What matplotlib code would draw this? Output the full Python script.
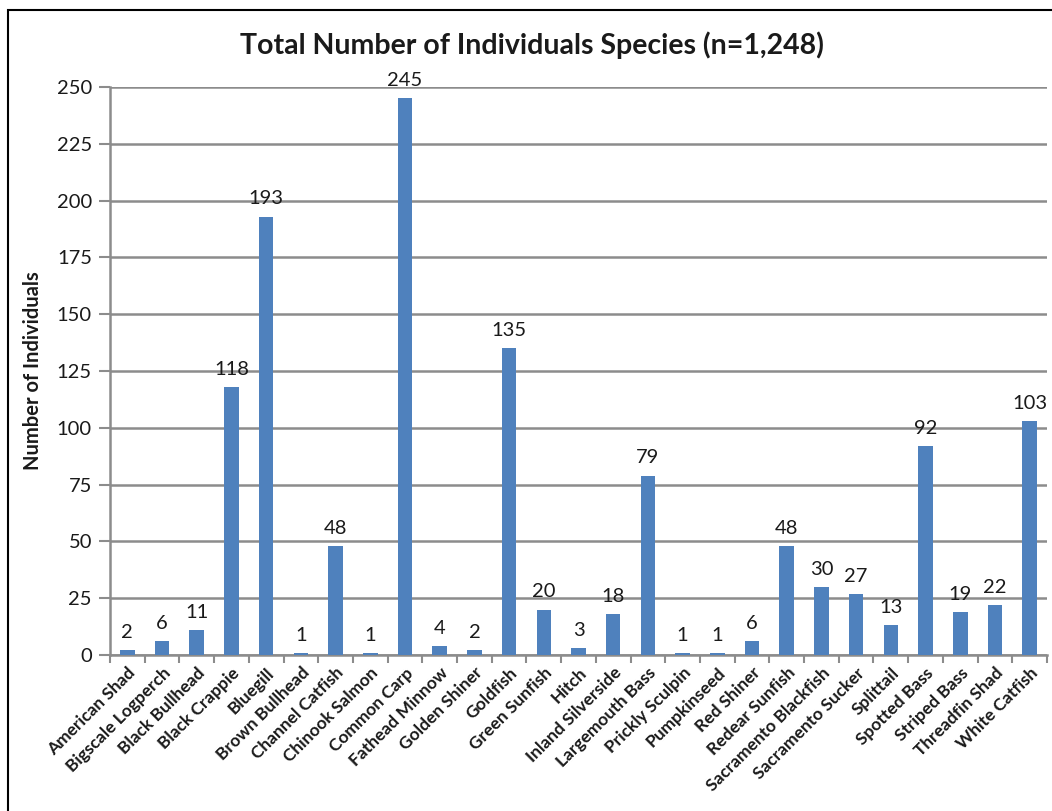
import matplotlib
matplotlib.use("Agg")
import matplotlib.pyplot as plt
from matplotlib.patches import Rectangle
import numpy as np

species = [
    "American Shad", "Bigscale Logperch", "Black Bullhead", "Black Crappie",
    "Bluegill", "Brown Bullhead", "Channel Catfish", "Chinook Salmon",
    "Common Carp", "Fathead Minnow", "Golden Shiner", "Goldfish",
    "Green Sunfish", "Hitch", "Inland Silverside", "Largemouth Bass",
    "Prickly Sculpin", "Pumpkinseed", "Red Shiner", "Redear Sunfish",
    "Sacramento Blackfish", "Sacramento Sucker", "Splittail", "Spotted Bass",
    "Striped Bass", "Threadfin Shad", "White Catfish",
]
counts = [2, 6, 11, 118, 193, 1, 48, 1, 245, 4, 2, 135, 20, 3, 18, 79,
          1, 1, 6, 48, 30, 27, 13, 92, 19, 22, 103]
y_ticks = [0, 25, 50, 75, 100, 125, 150, 175, 200, 225, 250]

plt.rcParams['font.family'] = ['Lato', 'DejaVu Sans']

W, H = 1052, 811
fig = plt.figure(figsize=(W / 100, H / 100), dpi=100)
ax = fig.add_axes([110 / W, 1 - 655 / H, (1047 - 110) / W, (655 - 87) / H])

bar_color = "#4F81BD"
grid_color = "#8C8C8C"
text_color = "#1a1a1a"
x = np.arange(len(species))
ax.bar(x, counts, width=0.42, color=bar_color, zorder=3)

for xi, v in zip(x, counts):
    ax.text(xi, v + 4, str(v), ha="center", va="bottom", fontsize=14.5,
            color=text_color, zorder=4)

ax.set_xlim(-0.5, len(species) - 0.5)
ax.set_ylim(0, 250)
ax.set_yticks(y_ticks)
ax.set_yticklabels([str(t) for t in y_ticks], fontsize=14.5, color=text_color)
ax.yaxis.grid(True, color=grid_color, linewidth=1.8, zorder=0)
ax.set_axisbelow(True)

# category labels centred under bars, tick marks between categories
ax.set_xticks(x)
ax.set_xticklabels(species, rotation=45, ha="right", rotation_mode="anchor",
                   fontsize=12.5, fontweight="bold", color=text_color)
ax.tick_params(axis="x", which="major", length=0, pad=7)
ax.set_xticks(np.arange(-0.5, len(species)), minor=True)
ax.tick_params(axis="x", which="minor", length=6, width=1.5, color=grid_color)
ax.tick_params(axis="y", length=8, width=1.5, color=grid_color, pad=5)

for side in ("top", "right"):
    ax.spines[side].set_visible(False)
for side in ("left", "bottom"):
    ax.spines[side].set_color(grid_color)
    ax.spines[side].set_linewidth(1.8)

ax.set_ylabel("Number of Individuals", fontsize=14.5, fontweight="bold",
              color=text_color, labelpad=10)

fig.text(532 / W, 1 - 45 / H, "Total Number of Individuals Species (n=1,248)",
         ha="center", va="center", fontsize=20.5, fontweight="bold",
         color=text_color)

fig.patches.append(Rectangle((8 / W, -0.05), 1.2, 1 - 10 / H + 0.05,
                             transform=fig.transFigure, fill=False,
                             edgecolor="black", linewidth=1.5))

fig.savefig("out.png", dpi=100)
